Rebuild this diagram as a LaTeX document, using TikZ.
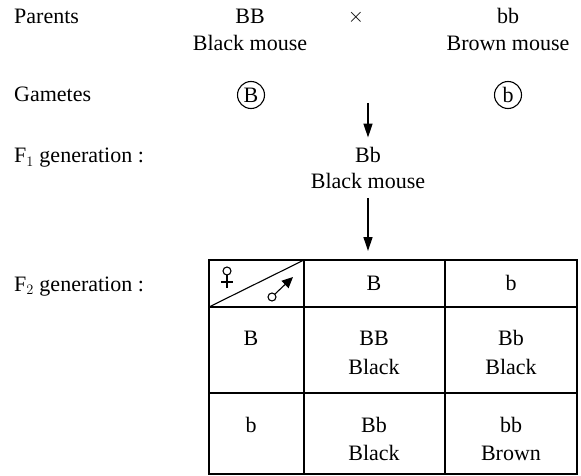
\documentclass[tikz,border=0pt]{standalone}
\usepackage{fontspec}
\setmainfont{Liberation Serif}
\usetikzlibrary{arrows.meta}

\begin{document}
\begin{tikzpicture}[x=1pt,y=-1pt,font=\fontsize{22}{27}\selectfont,
    lab/.style={anchor=base west,inner sep=0pt},
    txt/.style={anchor=base,inner sep=0pt},
    gam/.style={draw,circle,line width=1.1pt,inner sep=0pt,minimum size=27pt},
    arr/.style={line width=1.3pt,-{Triangle[length=14pt,width=9pt]}}]
  \useasboundingbox (0,0) rectangle (581,476);
  % left column
  \node[lab] (par) at (14,24) {Parents};
  \node[lab] (gmt) at (14,102) {Gametes};
  \node[lab] (fone) at (14,163) {F$_1$ generation :};
  \node[lab] (ftwo) at (14,291) {F$_2$ generation :};
  % parents
  \node[txt] (pBB) at (250,24) {BB};
  \node[txt] (pBBt) at (250,51) {Black mouse};
  \node (cross) at (356,17) {$\times$};
  \node[txt] (pbb) at (508,24) {bb};
  \node[txt] (pbbt) at (508,51) {Brown mouse};
  \node[gam] (gB) at (251,95) {B};
  \node[gam] (gb) at (508,95) {b};
  % F1
  \coordinate (gdown) at (368,103);
  \node[txt] (fBb) at (368,162) {Bb};
  \node[txt] (fBbt) at (368,189) {Black mouse};
  \coordinate (ttop) at (368,260);
  \draw[arr,shorten >=9pt] (gdown) -- (fBb.north);
  \draw[arr,shorten <=9pt,shorten >=9pt] (fBbt.south) -- (ttop);
  % F2 table
  \draw[line width=1.3pt] (209,260) rectangle (577,474);
  \draw[line width=1.3pt] (304,260) -- (304,474) (445,260) -- (445,474);
  \draw[line width=1.3pt] (209,307) -- (577,307) (209,393) -- (577,393);
  \draw[line width=1.1pt] (209,307) -- (304,260);
  % female / male signs
  \draw[line width=1.1pt] (227,271) circle[radius=4];
  \draw[line width=1.1pt] (227,275) -- (227,288) (221,282) -- (233,282);
  \draw[line width=1.1pt] (272,297) circle[radius=4];
  \draw[line width=1.1pt,-{Triangle[length=11pt,width=10pt]}] (275,294) -- (293,277);
  \node[txt] (hB) at (374,290) {B};
  \node[txt] (hb) at (511,290) {b};
  \node[txt] (rB) at (251,345) {B};
  \node[txt] (rb) at (251,432) {b};
  \node[txt] (cBB) at (374,345) {BB};
  \node[txt] (cBBt) at (374,374) {Black};
  \node[txt] (cBb) at (511,345) {Bb};
  \node[txt] (cBbt) at (511,374) {Black};
  \node[txt] (dBb) at (374,432) {Bb};
  \node[txt] (dBbt) at (374,460) {Black};
  \node[txt] (dbb) at (511,432) {bb};
  \node[txt] (dbbt) at (511,460) {Brown};
\end{tikzpicture}
\end{document}
